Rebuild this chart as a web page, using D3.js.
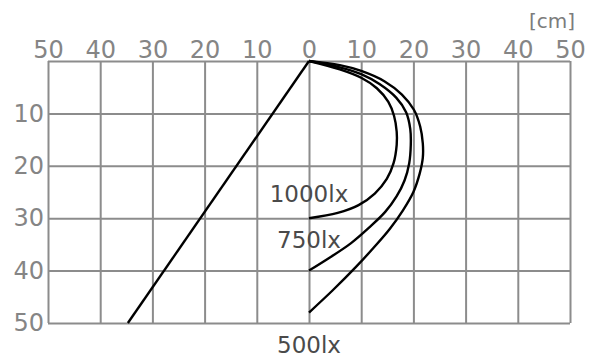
<!DOCTYPE html>
<html>
<head>
<meta charset="utf-8">
<script src="https://cdn.jsdelivr.net/npm/d3@7"></script>
<style>
  html, body { margin: 0; padding: 0; background: #fff; }
  svg { display: block; }
  text { font-family: "DejaVu Sans", sans-serif; }
  .grid line { stroke: #8c8c8c; stroke-width: 2; }
  .grid text { fill: #858585; font-size: 24px; }
  .curve { fill: none; stroke: #000; stroke-width: 2.4; }
  .lx { fill: #4a4a4a; font-size: 23px; text-anchor: middle; }
</style>
</head>
<body>
<svg id="chart" width="595" height="360"></svg>
<script>
// tick values [cm]
var xTicks = [-50, -40, -30, -20, -10, 0, 10, 20, 30, 40, 50];
var yTicks = [0, 10, 20, 30, 40, 50];

// beam edge (lateral cm, distance cm)
var beamEdge = [[0, 0], [-34.7, 50]];

// isolux curves [lateral cm, distance cm]
var lux1000 = [[0, 0], [5.9, 1.6], [10, 3.2], [13, 5.2], [15.2, 7.8], [16.3, 10.5], [16.8, 13.5],
    [16.8, 16], [16.2, 19.5], [14.9, 22.5], [12.6, 25.3], [9.5, 27.5], [5.5, 29], [0, 30]];
var lux750 = [[0, 0], [5.9, 1.2], [10, 2.5], [13.5, 4.4], [16.7, 7], [18.6, 9.8], [19.4, 13],
    [19.5, 16], [19.2, 19.5], [18.3, 22.8], [16.8, 25.8], [14.6, 28.8], [11.5, 31.8], [8, 34.8],
    [4, 37.5], [0, 40]];
var lux500 = [[0, 0], [5.9, 0.8], [10, 1.9], [14.5, 3.9], [17.8, 6.4], [20.1, 9.3], [21.3, 12.5],
    [21.8, 15.7], [21.8, 18.5], [21.2, 21.5], [20, 25], [18, 28.5], [15.5, 32], [12.5, 35.5],
    [9, 39.3], [4.5, 43.8], [0, 48]];

// label text and the distance (cm) of its baseline
var luxLabels = [["1000lx", 27], ["750lx", 35.6], ["500lx", 55.8]];

var svg = d3.select("#chart");

var x = d3.scaleLinear().domain([-50, 50]).range([48, 570]);
var y = d3.scaleLinear().domain([0, 50]).range([61, 323]);

// top axis doubles as vertical grid
var topAxis = svg.append("g")
    .attr("class", "grid")
    .attr("transform", "translate(0," + y(0) + ")")
    .call(d3.axisTop(x)
        .tickValues(xTicks)
        .tickFormat(function (d) { return Math.abs(d); })
        .tickSize(-(y(50) - y(0)))
        .tickPadding(3));
topAxis.select(".domain").remove();

// left axis doubles as horizontal grid
var leftAxis = svg.append("g")
    .attr("class", "grid")
    .attr("transform", "translate(" + x(-50) + ",0)")
    .call(d3.axisLeft(y)
        .tickValues(yTicks)
        .tickSize(-(x(50) - x(-50)))
        .tickPadding(4));
leftAxis.select(".domain").remove();
leftAxis.selectAll(".tick text")
    .filter(function (d) { return d === 0; }).remove();

svg.selectAll(".grid").attr("font-family", null).attr("font-size", null);
svg.selectAll(".grid text").attr("fill", null);
svg.selectAll(".grid line").attr("stroke", null);

svg.append("text")
    .attr("x", 575)
    .attr("y", 28)
    .attr("text-anchor", "end")
    .attr("fill", "#7c7c7c")
    .attr("font-size", 20)
    .text("[cm]");

var line = d3.line()
    .x(function (d) { return x(d[0]); })
    .y(function (d) { return y(d[1]); })
    .curve(d3.curveCatmullRom.alpha(0.5));

svg.append("path")
    .attr("class", "curve")
    .attr("d", d3.line().x(function (d) { return x(d[0]); }).y(function (d) { return y(d[1]); })(beamEdge));

[lux1000, lux750, lux500].forEach(function (s) {
    svg.append("path").attr("class", "curve").attr("d", line(s));
});

svg.selectAll(".lx")
    .data(luxLabels)
    .enter().append("text")
    .attr("class", "lx")
    .attr("x", x(0))
    .attr("y", function (d) { return y(d[1]); })
    .text(function (d) { return d[0]; });
</script>
</body>
</html>
